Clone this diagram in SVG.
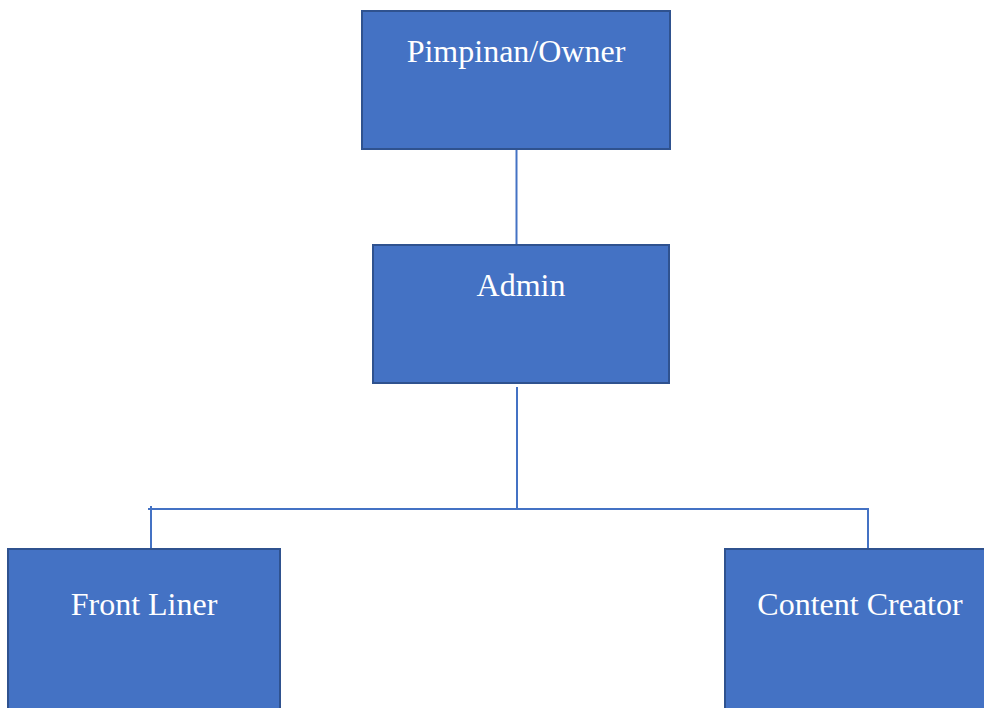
<svg xmlns="http://www.w3.org/2000/svg" width="984" height="708" viewBox="0 0 984 708">
<style>
.box{fill:#4472C4;stroke:#2F528F;stroke-width:2}
.lbl{font-family:"Liberation Serif","Times New Roman",serif;font-size:32px;fill:#FFFFFF;text-anchor:middle}
.conn{stroke:#4472C4;stroke-width:2;fill:none}
</style>
<rect width="984" height="708" fill="#FFFFFF"/>
<g id="connectors">
<line class="conn" x1="516.5" y1="149" x2="516.5" y2="244"/>
<line class="conn" x1="517" y1="387" x2="517" y2="509"/>
<line class="conn" x1="148" y1="509" x2="869" y2="509"/>
<line class="conn" x1="151" y1="506" x2="151" y2="549"/>
<line class="conn" x1="868" y1="509" x2="868" y2="549"/>
</g>
<g id="node-owner">
<rect class="box" x="362" y="11" width="308" height="138"/>
<text class="lbl" x="516" y="62">Pimpinan/Owner</text>
</g>
<g id="node-admin">
<rect class="box" x="373" y="245" width="296" height="138"/>
<text class="lbl" x="521" y="296">Admin</text>
</g>
<g id="node-frontliner">
<rect class="box" x="8" y="549" width="272" height="170"/>
<text class="lbl" x="144" y="615">Front Liner</text>
</g>
<g id="node-content">
<rect class="box" x="725" y="549" width="270" height="170"/>
<text class="lbl" x="860" y="615">Content Creator</text>
</g>
</svg>
